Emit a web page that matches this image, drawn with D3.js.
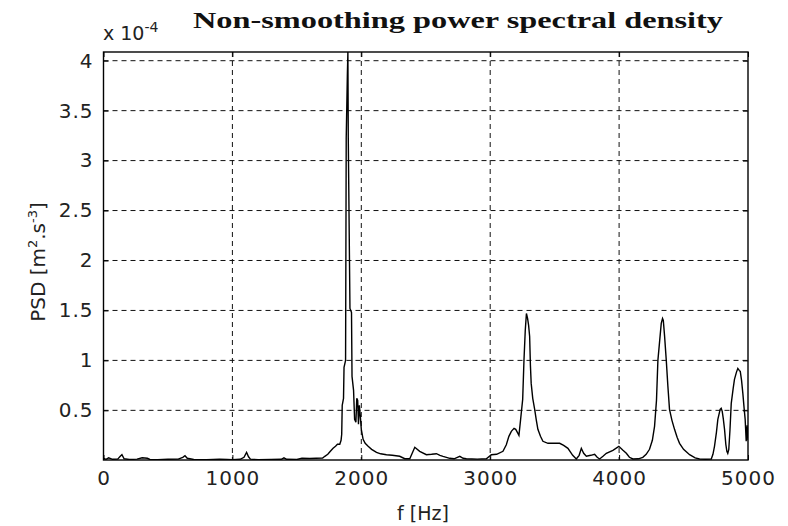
<!DOCTYPE html>
<html>
<head>
<meta charset="utf-8">
<script src="https://cdn.jsdelivr.net/npm/d3@7"></script>
<style>
  body { margin: 0; background: #fff; }
  .tick text { font-family: "DejaVu Sans", sans-serif; font-size: 20px; fill: #222; letter-spacing: 1px; }
  .tick line { stroke: #000; }
  .domain { display: none; }
</style>
</head>
<body>
<div class="chart"></div>
<script>
// PSD data (values in units of 1e-4)
var freq = [0, 20, 40, 70, 110, 130, 143, 160, 200, 260, 300, 340, 360, 420, 500, 580, 615, 632, 650, 700,
  800, 900, 960, 1000, 1060, 1090, 1110, 1125, 1140, 1200, 1300, 1380, 1400, 1420, 1500, 1540, 1600, 1650, 1700, 1717,
  1740, 1760, 1781, 1800, 1815, 1833, 1843, 1848, 1852, 1862, 1866, 1878, 1883, 1892, 1896, 1899, 1912, 1924, 1928, 1940,
  1948, 1958, 1965, 1972, 1978, 1985, 1992, 2000, 2014, 2030, 2053, 2080, 2118, 2150, 2195, 2240, 2298, 2337, 2376, 2415,
  2453, 2505, 2545, 2583, 2610, 2634, 2686, 2720, 2764, 2790, 2815, 2900, 2970, 3009, 3050, 3099, 3125, 3145, 3164, 3185,
  3198, 3215, 3223, 3236, 3252, 3262, 3272, 3281, 3290, 3298, 3306, 3312, 3318, 3330, 3345, 3358, 3370, 3390, 3409, 3448,
  3500, 3539, 3570, 3603, 3640, 3668, 3690, 3707, 3725, 3746, 3780, 3810, 3830, 3849, 3875, 3901, 3952, 3998, 4030, 4056,
  4080, 4107, 4150, 4184, 4210, 4236, 4258, 4275, 4290, 4301, 4315, 4327, 4337, 4343, 4353, 4366, 4378, 4391, 4410, 4430,
  4450, 4469, 4500, 4547, 4590, 4624, 4670, 4715, 4728, 4740, 4755, 4766, 4784, 4792, 4800, 4808, 4818, 4828, 4836, 4843,
  4851, 4860, 4870, 4885, 4895, 4910, 4921, 4932, 4940, 4950, 4960, 4970, 4978, 4986, 4993, 5000];

var psd = [0.02, 0.01, 0.025, 0.01, 0.012, 0.04, 0.056, 0.015, 0.008, 0.012, 0.025, 0.02, 0.008, 0.006, 0.01, 0.012, 0.03, 0.046, 0.02, 0.008,
  0.006, 0.01, 0.008, 0.006, 0.01, 0.03, 0.08, 0.035, 0.012, 0.006, 0.008, 0.01, 0.025, 0.01, 0.008, 0.02, 0.018, 0.02, 0.022, 0.04,
  0.06, 0.09, 0.12, 0.14, 0.16, 0.16, 0.2, 0.26, 0.55, 0.62, 0.93, 1.0, 3.22, 3.87, 4.087, 3.22, 1.52, 1.48, 0.84, 0.7,
  0.41, 0.38, 0.62, 0.6, 0.36, 0.55, 0.45, 0.31, 0.21, 0.17, 0.14, 0.11, 0.08, 0.065, 0.056, 0.05, 0.04, 0.016, 0.016, 0.13,
  0.09, 0.056, 0.06, 0.066, 0.05, 0.04, 0.02, 0.015, 0.04, 0.02, 0.016, 0.012, 0.016, 0.056, 0.06, 0.09, 0.156, 0.24, 0.29, 0.32,
  0.31, 0.27, 0.25, 0.41, 0.61, 1.0, 1.3, 1.47, 1.42, 1.35, 1.24, 0.95, 0.77, 0.62, 0.51, 0.4, 0.31, 0.24, 0.19, 0.17,
  0.17, 0.17, 0.15, 0.12, 0.05, 0.013, 0.05, 0.12, 0.07, 0.04, 0.05, 0.06, 0.03, 0.013, 0.04, 0.07, 0.1, 0.14, 0.1, 0.07,
  0.03, 0.013, 0.015, 0.03, 0.06, 0.11, 0.2, 0.34, 0.6, 1.0, 1.2, 1.37, 1.42, 1.4, 1.24, 1.0, 0.75, 0.51, 0.4, 0.31,
  0.23, 0.17, 0.11, 0.056, 0.025, 0.013, 0.01, 0.013, 0.06, 0.14, 0.28, 0.41, 0.51, 0.52, 0.49, 0.42, 0.31, 0.16, 0.09, 0.07,
  0.11, 0.3, 0.57, 0.72, 0.81, 0.88, 0.92, 0.9, 0.89, 0.8, 0.67, 0.52, 0.41, 0.19, 0.35, 0.2];

var xTicks = [0, 1000, 2000, 3000, 4000, 5000];
var yTicks = [0.5, 1, 1.5, 2, 2.5, 3, 3.5, 4];

var data = freq.map(function(f, i) { return { f: f, p: psd[i] }; });

// set the dimensions and margins of the graph
var svgWidth = 788;
var svgHeight = 526;
var margin = { top: 52, right: 40, bottom: 66, left: 103.5 };
var width = 748 - margin.left;
var height = 460 - margin.top;

var svg = d3.select(".chart")
  .append("svg")
  .attr("width", svgWidth)
  .attr("height", svgHeight);

var chartGroup = svg.append("g")
  .attr("transform", `translate(${margin.left}, ${margin.top})`);

// scales
var xScale = d3.scaleLinear().domain([0, 5000]).range([0, width]);
var yScale = d3.scaleLinear().domain([0.003, 4.087]).range([height, 0]);

// dashed grid
chartGroup.selectAll(".vgrid")
  .data(xTicks.slice(1, -1))
  .enter()
  .append("line")
  .attr("x1", d => xScale(d)).attr("x2", d => xScale(d))
  .attr("y1", 0).attr("y2", height)
  .attr("stroke", "#111")
  .attr("stroke-width", 1)
  .attr("stroke-dasharray", "5,4");

chartGroup.selectAll(".hgrid")
  .data(yTicks)
  .enter()
  .append("line")
  .attr("x1", 0).attr("x2", width)
  .attr("y1", d => yScale(d)).attr("y2", d => yScale(d))
  .attr("stroke", "#111")
  .attr("stroke-width", 1)
  .attr("stroke-dasharray", "5,4");

// axes, ticks pointing inward like matlab
chartGroup.append("g")
  .attr("transform", `translate(0, ${height})`)
  .call(d3.axisBottom(xScale).tickValues(xTicks).tickSize(-5).tickPadding(11).tickFormat(d3.format("d")));

chartGroup.append("g")
  .call(d3.axisTop(xScale).tickValues(xTicks).tickSize(-5).tickFormat(""));

chartGroup.append("g")
  .call(d3.axisLeft(yScale).tickValues(yTicks).tickSize(-5).tickPadding(10).tickFormat(d => d));

chartGroup.append("g")
  .attr("transform", `translate(${width}, 0)`)
  .call(d3.axisRight(yScale).tickValues(yTicks).tickSize(-5).tickFormat(""));

// the curve
chartGroup.append("clipPath")
  .attr("id", "clip")
  .append("rect")
  .attr("width", width)
  .attr("height", height);

var line = d3.line()
  .x(d => xScale(d.f))
  .y(d => yScale(d.p));

chartGroup.append("path")
  .datum(data)
  .attr("clip-path", "url(#clip)")
  .attr("fill", "none")
  .attr("stroke", "#000")
  .attr("stroke-width", 1.4)
  .attr("d", line);

// box
chartGroup.append("rect")
  .attr("width", width)
  .attr("height", height)
  .attr("fill", "none")
  .attr("stroke", "#000")
  .attr("stroke-width", 1.4);

// exponent label
var expo = svg.append("text")
  .attr("x", 103)
  .attr("y", 40)
  .attr("font-family", "DejaVu Sans, sans-serif")
  .attr("font-size", 19)
  .attr("fill", "#222");
expo.append("tspan").text("x 10");
expo.append("tspan").attr("dy", -8).attr("font-size", 14).text("-4");

// title
svg.append("text")
  .attr("x", 193)
  .attr("y", 28)
  .attr("font-family", "Liberation Serif, serif")
  .attr("font-weight", "bold")
  .attr("font-size", 24)
  .attr("textLength", 530)
  .attr("lengthAdjust", "spacingAndGlyphs")
  .attr("fill", "#111")
  .text("Non-smoothing power spectral density");

// axes labels
svg.append("text")
  .attr("x", 423)
  .attr("y", 520)
  .attr("text-anchor", "middle")
  .attr("font-family", "DejaVu Sans, sans-serif")
  .attr("font-size", 19)
  .attr("fill", "#222")
  .text("f [Hz]");

var ylab = svg.append("text")
  .attr("transform", "translate(45, 262) rotate(-90)")
  .attr("text-anchor", "middle")
  .attr("font-family", "DejaVu Sans, sans-serif")
  .attr("font-size", 20)
  .attr("fill", "#222");
ylab.append("tspan").text("PSD  [m");
ylab.append("tspan").attr("dy", -8).attr("font-size", 13).text("2");
ylab.append("tspan").attr("dy", 8).text(".s");
ylab.append("tspan").attr("dy", -8).attr("font-size", 13).text("-3");
ylab.append("tspan").attr("dy", 8).text("]");
</script>
</body>
</html>
